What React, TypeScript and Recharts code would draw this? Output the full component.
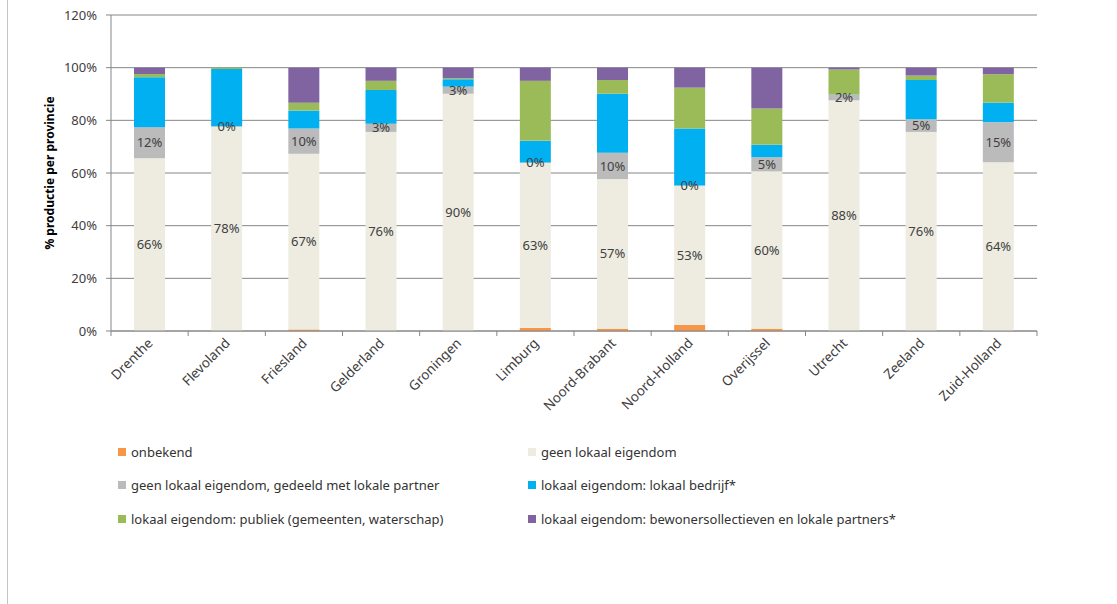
import React from 'react';
import { BarChart, Bar, XAxis, YAxis, CartesianGrid, Legend, LabelList } from 'recharts';

// provinces on the x axis
const provinces = [
  'Drenthe', 'Flevoland', 'Friesland', 'Gelderland', 'Groningen', 'Limburg',
  'Noord-Brabant', 'Noord-Holland', 'Overijssel', 'Utrecht', 'Zeeland', 'Zuid-Holland',
];

// share of production per ownership type (%)
const onbekend = [0, 0, 0.6, 0, 0, 1.2, 0.9, 2.3, 0.9, 0, 0, 0];
const geenLokaal = [65.6, 77.6, 66.7, 75.6, 90.1, 62.6, 56.8, 52.9, 59.7, 87.6, 75.6, 64.1];
const gedeeld = [11.8, 0.2, 9.6, 3.1, 2.7, 0.2, 10.0, 0.1, 5.4, 2.1, 4.8, 15.2];
const bedrijf = [19.0, 21.7, 6.8, 12.8, 2.8, 8.2, 22.4, 21.6, 4.7, 0.1, 14.9, 7.4];
const publiek = [1.2, 0.5, 3.0, 3.5, 0.4, 22.8, 5.2, 15.5, 13.8, 9.5, 1.7, 10.8];
const bewoners = [2.4, 0, 13.3, 5.0, 4.0, 5.0, 4.7, 7.6, 15.5, 0.7, 3.0, 2.5];

const yTicks = [0, 20, 40, 60, 80, 100, 120];

const series = [
  { key: 'onbekend', name: 'onbekend', color: '#F79646', values: onbekend },
  { key: 'geenLokaal', name: 'geen lokaal eigendom', color: '#EEECE1', values: geenLokaal, label: true },
  { key: 'gedeeld', name: 'geen lokaal eigendom, gedeeld met lokale partner', color: '#BBBBBB', values: gedeeld, label: true },
  { key: 'bedrijf', name: 'lokaal eigendom: lokaal bedrijf*', color: '#00B0F0', values: bedrijf },
  { key: 'publiek', name: 'lokaal eigendom: publiek (gemeenten, waterschap)', color: '#9BBB59', values: publiek },
  { key: 'bewoners', name: 'lokaal eigendom: bewonersollectieven en lokale partners*', color: '#8064A2', values: bewoners },
];

const data = provinces.map((p, i) => {
  const row: Record<string, any> = { province: p };
  series.forEach(s => { row[s.key] = s.values[i]; });
  return row;
});

const W = 1117;
const H = 604;
const PLOT_LEFT = 111;
const PLOT_RIGHT = 1037;
const PLOT_TOP = 15;
const PLOT_BOTTOM = 331;
const STEP = (PLOT_RIGHT - PLOT_LEFT) / provinces.length;
const AXIS = '#868686';
const TEXT = '#404040';

function XTick(props: any) {
  const { x, payload, index } = props;
  const tx = x + 4;
  const ty = PLOT_BOTTOM + 13;
  return (
    <g>
      <line x1={x - STEP / 2} x2={x - STEP / 2} y1={PLOT_BOTTOM} y2={PLOT_BOTTOM + 5} stroke={AXIS} />
      {index === provinces.length - 1 && (
        <line x1={x + STEP / 2} x2={x + STEP / 2} y1={PLOT_BOTTOM} y2={PLOT_BOTTOM + 5} stroke={AXIS} />
      )}
      <text
        x={tx}
        y={ty}
        transform={`rotate(-45, ${tx}, ${ty})`}
        textAnchor="end"
        fontSize={13.5}
        fill={TEXT}
      >
        {payload.value}
      </text>
    </g>
  );
}

function LegendGrid() {
  return (
    <div style={{ display: 'grid', gridTemplateColumns: '410px 400px', rowGap: 0 }}>
      {series.map(s => (
        <div key={s.key} style={{ display: 'flex', alignItems: 'center', height: 33.5 }}>
          <span style={{ width: 8, height: 8, background: s.color, marginRight: 5, display: 'inline-block' }} />
          <span style={{ fontSize: 13, color: '#333' }}>{s.name}</span>
        </div>
      ))}
    </div>
  );
}

export default function App() {
  return (
    <div style={{ position: 'absolute', left: 0, top: 0, width: W, height: H, background: '#fff', fontFamily: '"Noto Sans", sans-serif' }}>
      <div style={{ position: 'absolute', left: 7, top: 0, width: 1, height: H, background: '#c4c4c4' }} />
      <BarChart
        width={W}
        height={H}
        data={data}
        margin={{ top: PLOT_TOP, right: W - PLOT_RIGHT, left: -12, bottom: H - PLOT_BOTTOM - 90 }}
        barSize={31}
      >
        <CartesianGrid vertical={false} stroke={AXIS} />
        <XAxis
          dataKey="province"
          height={90}
          interval={0}
          tickLine={false}
          axisLine={{ stroke: AXIS }}
          tick={(p: any) => <XTick {...p} />}
        />
        <YAxis
          width={PLOT_LEFT + 12}
          domain={[0, 120]}
          ticks={yTicks}
          tickFormatter={(v: number) => `${v}%`}
          tickSize={5}
          tickMargin={9}
          tickLine={{ stroke: AXIS }}
          axisLine={{ stroke: AXIS }}
          tick={{ fontSize: 13, fill: TEXT }}
          label={{
            value: '% productie per provincie',
            angle: -90,
            position: 'center',
            style: { fontSize: 12, fontWeight: 'bold', fill: '#000', textAnchor: 'middle' },
          }}
        />
        <Legend
          layout="horizontal"
          verticalAlign="middle"
          content={() => <LegendGrid />}
          wrapperStyle={{ top: 435, left: 118, width: 820, height: 101 }}
        />
        {series.map(s => (
          <Bar key={s.key} dataKey={s.key} name={s.name} stackId="a" fill={s.color} isAnimationActive={false}>
            {s.label && (
              <LabelList
                dataKey={s.key}
                position="center"
                formatter={(v: any) => `${Math.round(Number(v))}%`}
                style={{ fontSize: 13, fill: TEXT }}
              />
            )}
          </Bar>
        ))}
      </BarChart>
    </div>
  );
}
